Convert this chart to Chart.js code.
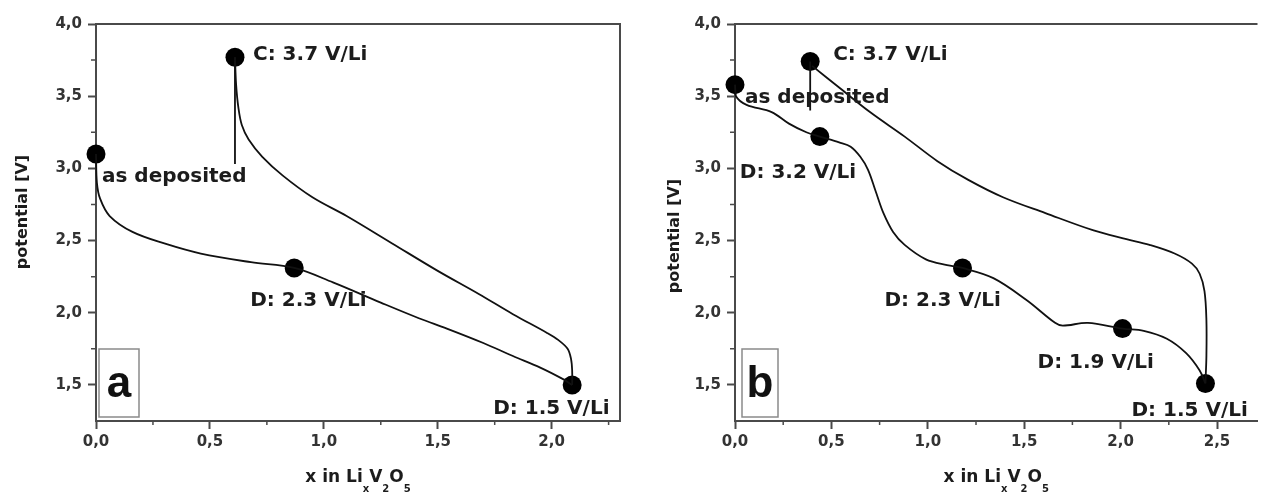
<!DOCTYPE html>
<html>
<head>
<meta charset="utf-8">
<script src="https://cdn.jsdelivr.net/npm/chart.js@4.4.0/dist/chart.umd.min.js"></script>
<style>
    html, body { margin: 0; padding: 0; background: #fff; }
    #wrap { position: relative; width: 1267px; height: 492px; overflow: hidden; }
    .box { position: absolute; top: 0; height: 492px; }
</style>
</head>
<body>
<div id="wrap">
    <div class="box" style="left:0;width:640px"><canvas id="chart-a"></canvas></div>
    <div class="box" style="left:640px;width:627px"><canvas id="chart-b"></canvas></div>
</div>
<script>
    "use strict";

    // Axis ticks
    var yMajor = [1.5, 2.0, 2.5, 3.0, 3.5, 4.0];
    var yMinor = [1.75, 2.25, 2.75, 3.25, 3.75];
    var xMajorA = [0.0, 0.5, 1.0, 1.5, 2.0];
    var xMinorA = [0.25, 0.75, 1.25, 1.75, 2.25];
    var xMajorB = [0.0, 0.5, 1.0, 1.5, 2.0, 2.5];
    var xMinorB = [0.25, 0.75, 1.25, 1.75, 2.25];

    // Panel a : [x, potential]
    var dischargeA = [[0, 3.10], [0.004, 2.90], [0.018, 2.79], [0.06, 2.67], [0.16, 2.56], [0.30, 2.48],
        [0.46, 2.41], [0.68, 2.35], [0.87, 2.31], [1.04, 2.21], [1.25, 2.07], [1.42, 1.96], [1.54, 1.89],
        [1.70, 1.79], [1.83, 1.70], [1.95, 1.62], [2.05, 1.54], [2.09, 1.50]];
    var chargeA = [[2.09, 1.50], [2.09, 1.60], [2.085, 1.68], [2.07, 1.75], [2.03, 1.81], [1.98, 1.86],
        [1.83, 1.99], [1.68, 2.13], [1.50, 2.29], [1.30, 2.48], [1.10, 2.67], [0.95, 2.80], [0.82, 2.95],
        [0.73, 3.08], [0.67, 3.20], [0.64, 3.30], [0.625, 3.42], [0.615, 3.58], [0.61, 3.77]];
    var leaderA = [[0.61, 3.77], [0.61, 3.03]];
    var pointsA = [[0, 3.10], [0.61, 3.77], [0.87, 2.31], [2.09, 1.50]];
    var namesA = ["as deposited", "C: 3.7 V/Li", "D: 2.3 V/Li", "D: 1.5 V/Li"];

    // Panel b : [x, potential]
    var dischargeB = [[0, 3.58], [0.005, 3.50], [0.06, 3.44], [0.19, 3.39], [0.28, 3.31], [0.37, 3.25],
        [0.44, 3.22], [0.54, 3.18], [0.60, 3.15], [0.65, 3.08], [0.69, 2.99], [0.73, 2.84], [0.77, 2.69],
        [0.82, 2.56], [0.88, 2.47], [0.99, 2.37], [1.10, 2.33], [1.18, 2.31], [1.34, 2.24], [1.51, 2.09],
        [1.66, 1.93], [1.70, 1.91], [1.83, 1.93], [2.01, 1.89], [2.12, 1.875], [2.24, 1.82], [2.34, 1.72],
        [2.41, 1.60], [2.44, 1.51]];
    var chargeB = [[2.44, 1.51], [2.445, 1.70], [2.445, 1.95], [2.435, 2.15], [2.41, 2.27], [2.37, 2.34],
        [2.28, 2.41], [2.15, 2.47], [2.03, 2.51], [1.86, 2.57], [1.61, 2.69], [1.39, 2.80], [1.21, 2.92],
        [1.05, 3.05], [0.88, 3.22], [0.70, 3.39], [0.54, 3.56], [0.40, 3.71]];
    var leaderB = [[0.39, 3.74], [0.39, 3.40]];
    var pointsB = [[0, 3.58], [0.39, 3.74], [0.44, 3.22], [1.18, 2.31], [2.01, 1.89], [2.44, 1.51]];
    var namesB = ["as deposited", "C: 3.7 V/Li", "D: 3.2 V/Li", "D: 2.3 V/Li", "D: 1.9 V/Li", "D: 1.5 V/Li"];

    var FONT = "'DejaVu Sans', sans-serif";
    var INK = "#1c1c1c";
    var AXIS = "#4a4a4a";

    function toXY(arr) {
        return arr.map(function (p) { return {x: p[0], y: p[1]}; });
    }

    function fmt(v) {
        return v.toFixed(1).replace(".", ",");
    }

    function curve(arr, tension) {
        return {
            data: toXY(arr),
            showLine: true,
            borderColor: "#111",
            borderWidth: 1.8,
            pointRadius: 0,
            tension: tension,
            clip: false
        };
    }

    // Extra drawing: frame, minor ticks, labels, letter box, axis titles
    var decor = {
        id: "decor",
        afterDraw: function (chart, args, o) {
            var ctx = chart.ctx;
            var a = chart.chartArea;
            var xs = chart.scales.x;
            var ys = chart.scales.y;
            ctx.save();

            // frame
            ctx.strokeStyle = AXIS;
            ctx.lineWidth = 2;
            ctx.beginPath();
            ctx.moveTo(a.left, a.top);
            ctx.lineTo(a.right, a.top);
            if (o.rightBorder) {
                ctx.lineTo(a.right, a.bottom);
            }
            ctx.stroke();

            // minor ticks
            ctx.lineWidth = 1.5;
            ctx.beginPath();
            yMinor.forEach(function (v) {
                var py = ys.getPixelForValue(v);
                ctx.moveTo(a.left - 5, py);
                ctx.lineTo(a.left, py);
            });
            o.xMinor.forEach(function (v) {
                var px = xs.getPixelForValue(v);
                ctx.moveTo(px, a.bottom);
                ctx.lineTo(px, a.bottom + 4);
            });
            ctx.stroke();

            // point labels
            ctx.fillStyle = INK;
            ctx.font = "bold 20px " + FONT;
            ctx.textBaseline = "middle";
            ctx.textAlign = "left";
            o.points.forEach(function (p, i) {
                var px = xs.getPixelForValue(p[0]);
                var py = ys.getPixelForValue(p[1]);
                ctx.fillText(o.names[i], px + o.offsets[i][0], py + o.offsets[i][1]);
            });

            // letter box
            ctx.strokeStyle = "#8a8a8a";
            ctx.lineWidth = 1.5;
            ctx.strokeRect(a.left + o.boxDx, a.bottom - 72, o.boxW, 68);
            ctx.font = "bold 44px 'Liberation Sans', Arial, sans-serif";
            ctx.textAlign = "center";
            ctx.fillStyle = "#111";
            ctx.fillText(o.letter, a.left + o.boxDx + o.boxW / 2, a.bottom - 36);

            // x title with subscripts
            var parts = [["x in Li", 0], ["x", 1], ["V", 0], ["2", 1], ["O", 0], ["5", 1]];
            var big = "bold 17px " + FONT;
            var small = "bold 10px " + FONT;
            var total = 0;
            parts.forEach(function (q) {
                ctx.font = q[1] ? small : big;
                total += ctx.measureText(q[0]).width;
            });
            var cx = (a.left + a.right) / 2 - total / 2;
            ctx.textAlign = "left";
            ctx.fillStyle = INK;
            parts.forEach(function (q) {
                ctx.font = q[1] ? small : big;
                ctx.fillText(q[0], cx, q[1] ? 489 : 478);
                cx += ctx.measureText(q[0]).width;
            });

            // y title
            ctx.translate(o.yTitleX, o.yTitleY);
            ctx.rotate(-Math.PI / 2);
            ctx.font = "bold 16px " + FONT;
            ctx.textAlign = "center";
            ctx.fillText("potential [V]", 0, 0);

            ctx.restore();
        }
    };

    function makeChart(id, p) {
        var ctx = document.getElementById(id).getContext("2d");
        return new Chart(ctx, {
            type: "scatter",
            data: {
                datasets: [
                    curve(p.discharge, 0.35),
                    curve(p.charge, 0.35),
                    curve(p.leader, 0),
                    {
                        data: toXY(p.points),
                        showLine: false,
                        pointRadius: 9.5,
                        pointBackgroundColor: "#000",
                        pointBorderColor: "#000",
                        pointBorderWidth: 0,
                        clip: false
                    }
                ]
            },
            options: {
                responsive: true,
                maintainAspectRatio: false,
                animation: false,
                events: [],
                layout: {padding: {left: 0, top: 24, right: p.padRight, bottom: 0}},
                scales: {
                    x: {
                        type: "linear",
                        min: 0,
                        max: p.xMax,
                        afterFit: function (s) { s.height = 71; },
                        afterBuildTicks: function (s) {
                            s.ticks = p.xMajor.map(function (v) { return {value: v}; });
                        },
                        grid: {drawOnChartArea: false, tickLength: 8, tickWidth: 2, tickColor: AXIS},
                        border: {color: AXIS, width: 2},
                        ticks: {
                            color: "#333",
                            padding: 4,
                            maxRotation: 0,
                            font: {family: FONT, size: 15, weight: "bold"},
                            callback: function (v) { return fmt(v); }
                        }
                    },
                    y: {
                        type: "linear",
                        min: 1.25,
                        max: 4.0,
                        afterFit: function (s) { s.width = p.yWidth; },
                        afterBuildTicks: function (s) {
                            s.ticks = yMajor.map(function (v) { return {value: v}; });
                        },
                        grid: {drawOnChartArea: false, tickLength: 8, tickWidth: 2, tickColor: AXIS},
                        border: {color: AXIS, width: 2},
                        ticks: {
                            color: "#333",
                            padding: 6,
                            font: {family: FONT, size: 15, weight: "bold"},
                            callback: function (v) { return fmt(v); }
                        }
                    }
                },
                plugins: {
                    legend: {display: false},
                    tooltip: {enabled: false},
                    decor: p.decor
                }
            },
            plugins: [decor]
        });
    }

    // Panel a
    makeChart("chart-a", {
        discharge: dischargeA,
        charge: chargeA,
        leader: leaderA,
        points: pointsA,
        xMajor: xMajorA,
        xMax: 2.30,
        padRight: 20,
        yWidth: 96,
        decor: {
            rightBorder: true,
            xMinor: xMinorA,
            points: pointsA,
            names: namesA,
            offsets: [[6, 23], [18, -2], [-44, 33], [-79, 24]],
            letter: "a",
            boxDx: 3,
            boxW: 40,
            yTitleX: 23,
            yTitleY: 212
        }
    });

    // Panel b
    makeChart("chart-b", {
        discharge: dischargeB,
        charge: chargeB,
        leader: leaderB,
        points: pointsB,
        xMajor: xMajorB,
        xMax: 2.71,
        padRight: 0,
        yWidth: 95,
        decor: {
            rightBorder: false,
            xMinor: xMinorB,
            points: pointsB,
            names: namesB,
            offsets: [[10, 13], [23, -7], [-80, 36], [-78, 33], [-85, 34], [-74, 27]],
            letter: "b",
            boxDx: 7,
            boxW: 36,
            yTitleX: 35,
            yTitleY: 236
        }
    });
</script>
</body>
</html>
